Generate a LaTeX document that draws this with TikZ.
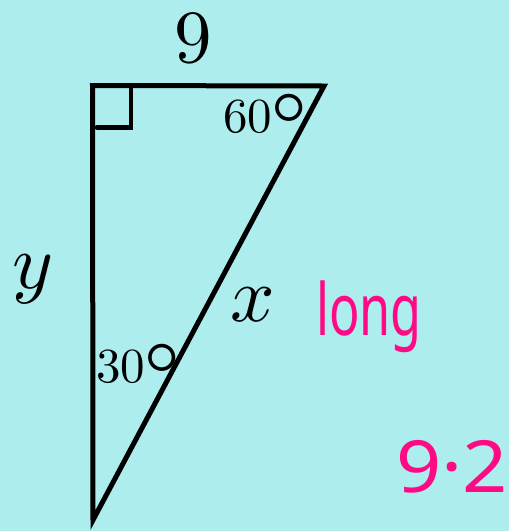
\documentclass[tikz,border=0pt]{standalone}
\usepackage{unicode-math}
\usepackage{tikz}
\newfontfamily\handfont{Noto Sans}
\definecolor{sheetcyan}{RGB}{174,237,237}
\definecolor{penpink}{RGB}{255,10,132}
\usetikzlibrary{positioning, calc}
\newcommand{\bigdeg}{\kern-2pt\raisebox{2pt}{\scalebox{1.85}{$\circ$}}}
\tikzset{
    side/.style={line width=5pt},
    anglelabel/.style={inner sep=0pt, anchor=base west, font=\fontsize{49}{49}\selectfont},
    sidelabel/.style={inner sep=0pt, font=\fontsize{78}{78}\selectfont},
    note/.style={inner sep=0pt, text=penpink, font=\handfont\fontsize{72}{72}\selectfont}
}

\begin{document}
\begin{tikzpicture}[x=1pt, y=-1pt]

    % --- Background sheet ---
    \fill[sheetcyan] (0,0) rectangle (509,531);
    \useasboundingbox (0,0) rectangle (509,531);

    % --- Triangle corners ---
    \coordinate (A) at (92.5,85.5);  % right angle
    \coordinate (B) at (324,86);     % 60 degrees
    \coordinate (C) at (93,520);     % 30 degrees

    % Triangle sides
    \draw[side] (A) -- (B) -- (C) -- cycle;

    % Right angle mark
    \coordinate (RA) at (131,85);
    \coordinate (RB) at (131,127.5);
    \coordinate (RC) at (97,127.5);
    \draw[line width=4.5pt, line cap=round] (RA) -- (RB) -- (RC);

    % --- Angle labels ---
    \node[anglelabel] (ang60) at (223,132) {$60$\bigdeg};
    \node[anglelabel] (ang30) at (96,382) {$30$\bigdeg};

    % --- Side labels ---
    \node[sidelabel, font=\fontsize{75}{75}\selectfont] (top) at (193,38) {$9$};
    \node[sidelabel] (left) at (33,279) {$y$};
    \node[sidelabel] (hyp) at (253,305) {$x$};

    % --- Handwritten notes ---
    \node[note] (long) at (369,317) {\scalebox{0.7}[1]{long}};
    \node[note] (calc) at (452,467) {\scalebox{1.1}[1]{9·2}};

\end{tikzpicture}
\end{document}
